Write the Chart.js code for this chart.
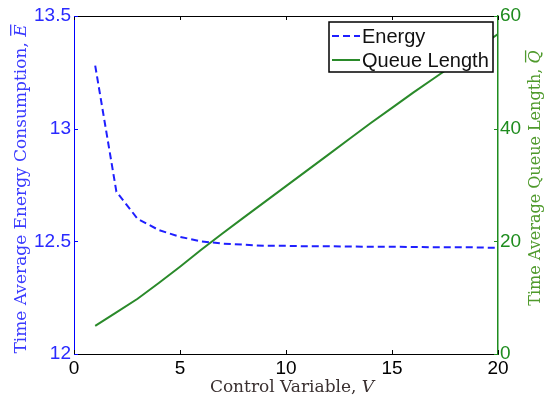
<!DOCTYPE html>
<html>
<head>
<meta charset="utf-8">
<script src="https://cdn.jsdelivr.net/npm/chart.js@4.4.0/dist/chart.umd.min.js"></script>
<style>
    html, body { margin: 0; padding: 0; background: #fff; }
    #wrap { width: 545px; height: 397px; }
</style>
</head>
<body>
<div id="wrap"><canvas id="canvas" width="545" height="397"></canvas></div>
<script>
// control variable V
var vValues = [1, 2, 3, 4, 5, 6, 7, 8, 9, 10, 11, 12, 13, 14, 15, 16, 17, 18, 19, 20];
// time average energy consumption
var energyValues = [13.28, 12.72, 12.60, 12.55, 12.52, 12.50, 12.49, 12.485, 12.48, 12.48,
    12.478, 12.478, 12.477, 12.476, 12.476, 12.475, 12.474, 12.474, 12.473, 12.471];
// time average queue length
var queueValues = [5.0, 7.4, 9.8, 12.6, 15.5, 18.5, 21.4, 24.2, 27.0, 29.8,
    32.6, 35.4, 38.2, 41.0, 43.7, 46.4, 49.0, 51.6, 54.2, 56.8];

var xTicks = [0, 5, 10, 15, 20];
var energyTicks = [12, 12.5, 13, 13.5];
var queueTicks = [0, 20, 40, 60];

var BLUE = '#0000ff';
var GREEN = '#1e8c1e';
var SANS = '"Liberation Sans", Arial, sans-serif';
var SERIF = '"DejaVu Serif", serif';

function toPoints(xs, ys) {
    var pts = [];
    for (var i = 0; i < xs.length; i++) {
        pts.push({x: xs[i], y: ys[i]});
    }
    return pts;
}

function fixedTicks(list) {
    return function (scale) {
        scale.ticks = list.map(function (v) { return {value: v}; });
    };
}

function plainLabel(value) {
    return String(value);
}

// title made of pieces, some italic, some with a bar over them
function drawTitle(ctx, parts, cx, cy, vertical, color, size) {
    ctx.save();
    ctx.translate(cx, cy);
    if (vertical) ctx.rotate(-Math.PI / 2);
    ctx.fillStyle = color;
    ctx.strokeStyle = color;
    ctx.textBaseline = 'alphabetic';
    ctx.textAlign = 'left';
    var total = 0;
    parts.forEach(function (p) {
        ctx.font = (p.italic ? 'italic ' : '') + size + 'px ' + SERIF;
        p.w = ctx.measureText(p.text).width;
        total += p.w;
    });
    var x = -total / 2;
    parts.forEach(function (p) {
        ctx.font = (p.italic ? 'italic ' : '') + size + 'px ' + SERIF;
        ctx.fillText(p.text, x, 0);
        if (p.bar) {
            ctx.lineWidth = 1.3;
            ctx.beginPath();
            ctx.moveTo(x + 1, -size * 0.9);
            ctx.lineTo(x + p.w, -size * 0.9);
            ctx.stroke();
        }
        x += p.w;
    });
    ctx.restore();
}

var framePlugin = {
    id: 'frame',
    afterDraw: function (chart) {
        var ctx = chart.ctx;
        var a = chart.chartArea;
        var xs = chart.scales.x, yl = chart.scales.y, yr = chart.scales.y2;
        var len = 4;

        ctx.save();
        // top edge
        ctx.lineWidth = 1;
        ctx.strokeStyle = '#000';
        ctx.beginPath();
        ctx.moveTo(a.left, a.top + 0.5);
        ctx.lineTo(a.right, a.top + 0.5);
        ctx.stroke();

        // inward ticks, top and bottom
        xs.ticks.forEach(function (t) {
            var px = Math.round(xs.getPixelForValue(t.value)) + 0.5;
            ctx.beginPath();
            ctx.moveTo(px, a.bottom);
            ctx.lineTo(px, a.bottom - len);
            ctx.moveTo(px, a.top);
            ctx.lineTo(px, a.top + len);
            ctx.stroke();
        });
        ctx.strokeStyle = BLUE;
        yl.ticks.forEach(function (t) {
            var py = Math.round(yl.getPixelForValue(t.value)) + 0.5;
            ctx.beginPath();
            ctx.moveTo(a.left, py);
            ctx.lineTo(a.left + len, py);
            ctx.stroke();
        });
        ctx.strokeStyle = GREEN;
        yr.ticks.forEach(function (t) {
            var py = Math.round(yr.getPixelForValue(t.value)) + 0.5;
            ctx.beginPath();
            ctx.moveTo(a.right, py);
            ctx.lineTo(a.right - len, py);
            ctx.stroke();
        });

        // legend inside the plot
        var bx = a.right - 169, by = a.top + 6, bw = 164, bh = 50;
        ctx.fillStyle = '#fff';
        ctx.fillRect(bx, by, bw, bh);
        ctx.strokeStyle = '#000';
        ctx.lineWidth = 1.5;
        ctx.strokeRect(bx, by, bw, bh);
        chart.data.datasets.forEach(function (ds, i) {
            var ly = by + 14 + i * 24;
            ctx.strokeStyle = ds.borderColor;
            ctx.lineWidth = 2;
            ctx.setLineDash(ds.borderDash || []);
            ctx.beginPath();
            ctx.moveTo(bx + 3, ly);
            ctx.lineTo(bx + 31, ly);
            ctx.stroke();
            ctx.setLineDash([]);
            ctx.fillStyle = '#111';
            ctx.font = '20px ' + SANS;
            ctx.textBaseline = 'middle';
            ctx.fillText(ds.label, bx + 33, ly + 1);
        });
        ctx.restore();

        drawTitle(ctx, [{text: 'Time Average Energy Consumption, '}, {text: 'E', italic: true, bar: true}],
            26, 189, true, '#3a3aff', 17);
        drawTitle(ctx, [{text: 'Time Average Queue Length, '}, {text: 'Q', italic: true, bar: true}],
            540, 178, true, '#4f9a2c', 16);
        drawTitle(ctx, [{text: 'Control Variable, '}, {text: 'V', italic: true}],
            292, 392, false, '#3a3030', 17);
    }
};

const CHART = document.getElementById('canvas');
var lineChart = new Chart(CHART, {
    type: 'line',
    data: {
        datasets: [{
            label: 'Energy',
            data: toPoints(vValues, energyValues),
            yAxisID: 'y',
            borderColor: '#1f1fff',
            borderWidth: 2,
            borderDash: [7, 4],
            pointRadius: 0,
            tension: 0,
            fill: false
        }, {
            label: 'Queue Length',
            data: toPoints(vValues, queueValues),
            yAxisID: 'y2',
            borderColor: '#2a8a2a',
            borderWidth: 2,
            pointRadius: 0,
            tension: 0,
            fill: false
        }]
    },
    plugins: [framePlugin],
    options: {
        responsive: false,
        animation: false,
        layout: {padding: {top: 16, left: 0, right: 0, bottom: 0}},
        plugins: {
            legend: {display: false},
            tooltip: {enabled: false}
        },
        scales: {
            x: {
                type: 'linear',
                position: 'bottom',
                min: 0,
                max: 20,
                afterBuildTicks: fixedTicks(xTicks),
                afterFit: function (s) { s.height = 43; },
                ticks: {color: '#000', font: {family: SANS, size: 19}, padding: 3, maxRotation: 0, callback: plainLabel},
                grid: {display: false, drawTicks: false},
                border: {color: '#000', width: 1}
            },
            y: {
                type: 'linear',
                position: 'left',
                min: 12,
                max: 13.5,
                afterBuildTicks: fixedTicks(energyTicks),
                afterFit: function (s) { s.width = 74; },
                ticks: {color: '#2a2aff', font: {family: SANS, size: 19}, padding: 3, callback: plainLabel},
                grid: {display: false, drawTicks: false},
                border: {color: BLUE, width: 1}
            },
            y2: {
                type: 'linear',
                position: 'right',
                min: 0,
                max: 60,
                afterBuildTicks: fixedTicks(queueTicks),
                afterFit: function (s) { s.width = 47; },
                ticks: {color: GREEN, font: {family: SANS, size: 19}, padding: 2, callback: plainLabel},
                grid: {display: false, drawTicks: false},
                border: {color: GREEN, width: 1.5}
            }
        }
    }
});
</script>
</body>
</html>
